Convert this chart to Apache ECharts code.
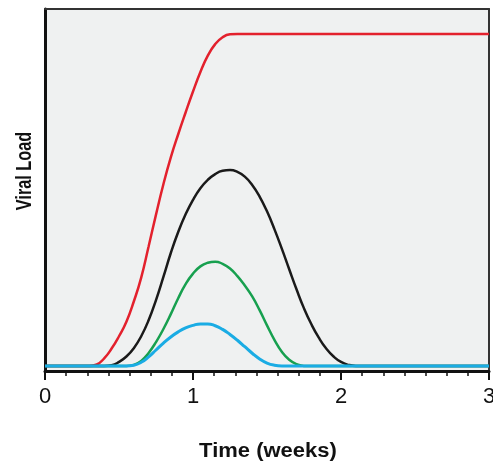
<!DOCTYPE html>
<html>
<head>
<meta charset="utf-8">
<script src="https://cdn.jsdelivr.net/npm/echarts@6/dist/echarts.min.js"></script>
<style>
html,body{margin:0;padding:0;background:#fff;}
#chart{width:493px;height:467px;}
</style>
</head>
<body>
<div id="chart"></div>
<script>
// Time points (weeks)
var weeks = [0, 0.1, 0.2, 0.25, 0.30, 0.35, 0.40, 0.45, 0.50, 0.55, 0.60, 0.65, 0.70, 0.75, 0.80,
  0.85, 0.90, 0.95, 1.00, 1.05, 1.10, 1.15, 1.20, 1.25, 1.30, 1.35, 1.40, 1.45, 1.50, 1.55, 1.60,
  1.65, 1.70, 1.75, 1.80, 1.85, 1.90, 1.95, 2.00, 2.05, 2.10, 2.15, 2.5, 3];
// Viral load curves (relative units)
var redLoad = [1.4, 1.4, 1.4, 1.4, 1.4, 1.8, 3.5, 6.2, 9.6, 13.6, 19.2, 25.8, 34.4, 43.2, 51.6,
  59.0, 65.4, 71.4, 77.2, 82.6, 87.1, 90.3, 92.2, 93.0, 93.1, 93.1, 93.1, 93.1, 93.1, 93.1, 93.1,
  93.1, 93.1, 93.1, 93.1, 93.1, 93.1, 93.1, 93.1, 93.1, 93.1, 93.1, 93.1, 93.1];
var blackLoad = [1.4, 1.4, 1.4, 1.4, 1.4, 1.4, 1.4, 1.6, 2.5, 4.0, 6.3, 9.6, 14.0, 19.6, 26.0,
  32.6, 38.4, 43.3, 47.3, 50.5, 52.8, 54.4, 55.3, 55.5, 55.0, 53.7, 51.4, 48.2, 44.1, 39.2, 33.8,
  28.1, 22.5, 17.3, 12.9, 9.2, 6.2, 4.0, 2.5, 1.7, 1.4, 1.4, 1.4, 1.4];
var greenLoad = [1.4, 1.4, 1.4, 1.4, 1.4, 1.4, 1.4, 1.4, 1.4, 1.4, 1.7, 2.8, 5.0, 8.0, 11.6,
  15.7, 20.1, 24.0, 26.9, 28.9, 29.9, 30.2, 29.6, 28.3, 26.2, 23.6, 20.6, 16.8, 12.6, 8.6, 5.3,
  3.1, 1.9, 1.4, 1.4, 1.4, 1.4, 1.4, 1.4, 1.4, 1.4, 1.4, 1.4, 1.4];
var blueLoad = [1.4, 1.4, 1.4, 1.4, 1.4, 1.4, 1.4, 1.4, 1.4, 1.4, 1.6, 2.4, 3.9, 5.8, 7.7,
  9.4, 10.8, 11.9, 12.6, 13.0, 13.0, 12.5, 11.5, 10.1, 8.5, 6.7, 4.9, 3.3, 2.2, 1.6, 1.4,
  1.4, 1.4, 1.4, 1.4, 1.4, 1.4, 1.4, 1.4, 1.4, 1.4, 1.4, 1.4, 1.4];
var xTicks = [0, 1, 2, 3];
var yTitle = 'Viral Load';
var xTitle = 'Time (weeks)';

function pairs(vals) { return weeks.map(function (t, i) { return [t, vals[i]]; }); }
function line(vals, color, w, z) {
  return {
    type: 'line', data: pairs(vals), showSymbol: false, smooth: 0.5,
    lineStyle: { color: color, width: w }, z: z, clip: true
  };
}

var chart = echarts.init(document.getElementById('chart'), null, { renderer: 'canvas' });
chart.setOption({
  animation: false,
  backgroundColor: '#ffffff',
  grid: {
    left: 45, right: 4, top: 9, bottom: 96, containLabel: false, outerBoundsMode: 'none',
    show: true, backgroundColor: '#eff1f1', borderColor: '#333333', borderWidth: 0
  },
  xAxis: [{
    type: 'value', min: xTicks[0], max: xTicks[xTicks.length - 1], interval: 1,
    axisLine: { show: true, onZero: false, lineStyle: { color: '#111', width: 3 } },
    axisTick: { show: true, length: 9, lineStyle: { color: '#111', width: 2 } },
    minorTick: { show: true, splitNumber: 7, length: 5, lineStyle: { color: '#111', width: 1.5 } },
    splitLine: { show: false },
    axisLabel: {
      margin: 15, fontSize: 22, color: '#111', fontFamily: 'Liberation Sans, Arial, sans-serif',
      showMinLabel: true, showMaxLabel: true,
      formatter: function (v) { return xTicks.indexOf(v) >= 0 ? String(v) : ''; }
    }
  }, {
    type: 'value', position: 'top', min: 0, max: 3,
    axisLine: { show: true, onZero: false, lineStyle: { color: '#333', width: 2 } },
    axisTick: { show: false }, axisLabel: { show: false }, splitLine: { show: false }
  }],
  yAxis: [{
    type: 'value', min: 0, max: 100,
    axisLine: { show: true, onZero: false, lineStyle: { color: '#111', width: 3 } },
    axisTick: { show: false }, axisLabel: { show: false }, splitLine: { show: false }
  }, {
    type: 'value', position: 'right', min: 0, max: 100,
    axisLine: { show: true, onZero: false, lineStyle: { color: '#333', width: 2 } },
    axisTick: { show: false }, axisLabel: { show: false }, splitLine: { show: false }
  }],
  graphic: [
    {
      type: 'text', x: 25, y: 171, rotation: Math.PI / 2, scaleX: 0.74, scaleY: 1,
      style: {
        text: yTitle, fill: '#111', font: 'bold 22px "Liberation Sans", Arial, sans-serif',
        textAlign: 'center', textVerticalAlign: 'middle', align: 'center', verticalAlign: 'middle'
      }
    },
    {
      type: 'text', x: 268, y: 451, scaleX: 1.1, scaleY: 1,
      style: {
        text: xTitle, fill: '#111', font: 'bold 20px "Liberation Sans", Arial, sans-serif',
        textAlign: 'center', textVerticalAlign: 'middle', align: 'center', verticalAlign: 'middle'
      }
    }
  ],
  series: [
    line(redLoad, '#e3212d', 2.5, 2),
    line(blackLoad, '#1a1a1a', 2.5, 3),
    line(greenLoad, '#17a04f', 2.5, 4),
    line(blueLoad, '#1aace4', 3, 5)
  ]
});
</script>
</body>
</html>
